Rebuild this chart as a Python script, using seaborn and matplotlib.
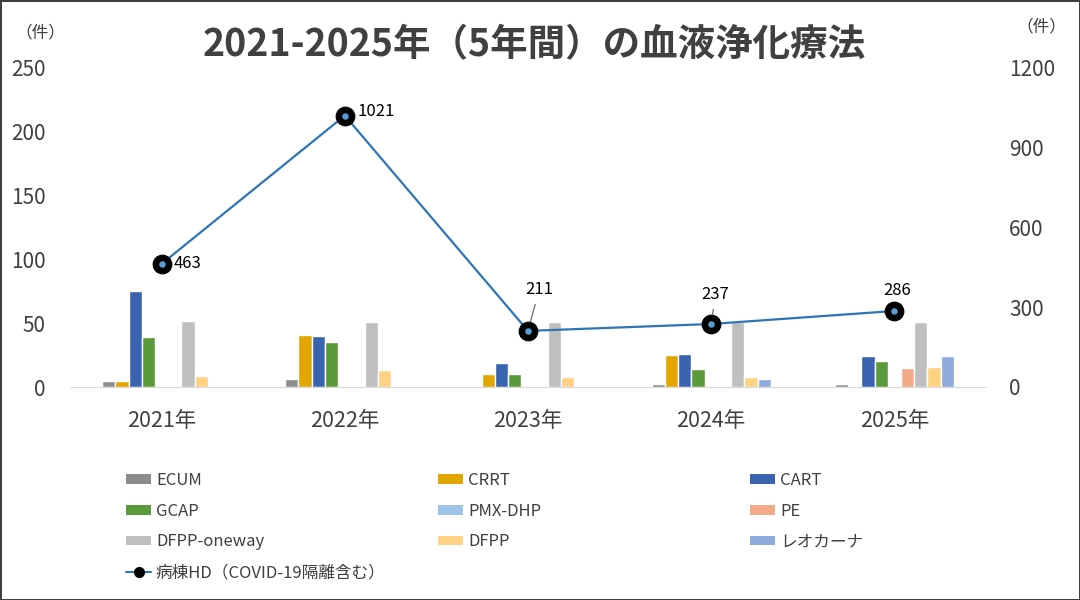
import numpy as np
import pandas as pd
import seaborn as sns
import matplotlib.pyplot as plt
from matplotlib.patches import Patch
from matplotlib.lines import Line2D

# data
years = ['2021年', '2022年', '2023年', '2024年', '2025年']
methods = ['ECUM', 'CRRT', 'CART', 'GCAP', 'PMX-DHP', 'PE', 'DFPP-oneway', 'DFPP', 'レオカーナ']
ecum = [5, 6, 1, 2, 2]
crrt = [5, 41, 10, 25, 0]
cart = [75, 40, 19, 26, 24]
gcap = [39, 35, 10, 14, 20]
pmx_dhp = [0, 1, 1, 0, 1]
pe = [1, 1, 1, 1, 15]
dfpp_oneway = [52, 51, 51, 51, 51]
dfpp = [9, 13, 8, 8, 16]
leocarna = [0, 0, 0, 6, 24]
ward_hd = [463, 1021, 211, 237, 286]
hd_label = '病棟HD（COVID-19隔離含む）'

colors = ['#8C8C8C', '#E3A600', '#3A64B0', '#5B9A3B', '#9DC3E6',
          '#F4A98A', '#BFBFBF', '#FFD284', '#8FAADC']
line_color = '#2E75B6'
text_color = '#404040'

df = pd.DataFrame({'year': years, 'ECUM': ecum, 'CRRT': crrt, 'CART': cart, 'GCAP': gcap,
                   'PMX-DHP': pmx_dhp, 'PE': pe, 'DFPP-oneway': dfpp_oneway, 'DFPP': dfpp,
                   'レオカーナ': leocarna})
long_df = df.melt(id_vars='year', var_name='method', value_name='count')

sns.set_style('white')
plt.rcParams['font.family'] = ['Noto Sans CJK JP', 'DejaVu Sans']

fig = plt.figure(figsize=(10.8, 6), dpi=100)
fig.patch.set_edgecolor(text_color)
fig.patch.set_linewidth(2)

ax = fig.add_axes([70 / 1080, 1 - 387 / 600, 916 / 1080, 319 / 600])
sns.barplot(data=long_df, x='year', y='count', hue='method', hue_order=methods,
            palette=colors, width=0.65, saturation=1, legend=False, ax=ax)
ax.set_xlim(-0.5, 4.5)
ax.set_ylim(0, 250)
ax.set_yticks(range(0, 251, 50))
ax.set_xlabel('')
ax.set_ylabel('')
for s in ['top', 'left', 'right']:
    ax.spines[s].set_visible(False)
ax.spines['bottom'].set_color('#D9D9D9')
ax.tick_params(axis='y', length=0, pad=17.5, labelsize=15, labelcolor=text_color)
ax.tick_params(axis='x', length=0, pad=16.5, labelsize=15.5, labelcolor=text_color)

# right axis: ward HD line
ax2 = ax.twinx()
x_pos = np.arange(len(years))
sns.lineplot(x=x_pos, y=ward_hd, ax=ax2, color=line_color, lw=1.6, marker='o',
             markersize=13.5, markerfacecolor='black', markeredgecolor='black')
sns.scatterplot(x=x_pos, y=ward_hd, ax=ax2, color='#5B9BD5', s=22, linewidth=0, zorder=5)
ax2.set_ylim(0, 1200)
ax2.set_yticks(range(0, 1201, 300))
ax2.set_ylabel('')
for s in ['top', 'left', 'right', 'bottom']:
    ax2.spines[s].set_visible(False)
ax2.tick_params(axis='y', length=0, pad=16.5, labelsize=15, labelcolor=text_color)
ax.set_xlim(-0.5, 4.5)

# data labels
lab_kw = dict(textcoords='offset points', fontsize=12, color='black')
ax2.annotate('463', xy=(0, ward_hd[0]), xytext=(8.5, 0), ha='left', va='center', **lab_kw)
ax2.annotate('1021', xy=(1, ward_hd[1]), xytext=(9, 3), ha='left', va='center', **lab_kw)
leader = dict(arrowstyle='-', color='#595959', lw=0.8, shrinkB=7)
ax2.annotate('211', xy=(2, ward_hd[2]), xytext=(8, 29.5), ha='center', va='center',
             arrowprops=leader, **lab_kw)
ax2.annotate('237', xy=(3, ward_hd[3]), xytext=(3, 21), ha='center', va='center',
             arrowprops=leader, **lab_kw)
ax2.annotate('286', xy=(4, ward_hd[4]), xytext=(2, 15), ha='center', va='center', **lab_kw)

# title and unit labels
fig.text(534 / 1080, 1 - 45 / 600, '2021-2025年（5年間）の血液浄化療法', ha='center', va='center',
         fontsize=27, fontweight='bold', color=text_color)
fig.text(40 / 1080, 1 - 33 / 600, '（件）', ha='center', va='center', fontsize=12, color=text_color)
fig.text(1041 / 1080, 1 - 27 / 600, '（件）', ha='center', va='center', fontsize=12, color=text_color)

# legend, three columns placed like the original
leg_kw = dict(loc='upper left', frameon=False, fontsize=12, handlelength=1.5,
              handleheight=0.5, handletextpad=0.3, labelspacing=0.82, borderpad=0,
              borderaxespad=0, labelcolor=text_color)
cols = [[0, 3, 6], [1, 4, 7], [2, 5, 8]]
col_x = [126, 438, 750]
for j, idx in enumerate(cols):
    handles = [Patch(facecolor=colors[i], edgecolor='none') for i in idx]
    labels = [methods[i] for i in idx]
    if j == 0:
        handles.append(Line2D([0], [0], color=line_color, lw=1.5, marker='o', markersize=7,
                              markerfacecolor='black', markeredgecolor='black'))
        labels.append(hd_label)
    leg = fig.legend(handles, labels, bbox_to_anchor=(col_x[j] / 1080, 1 - 472 / 600), **leg_kw)

fig.savefig('out.png', dpi=100, edgecolor=fig.get_edgecolor())
